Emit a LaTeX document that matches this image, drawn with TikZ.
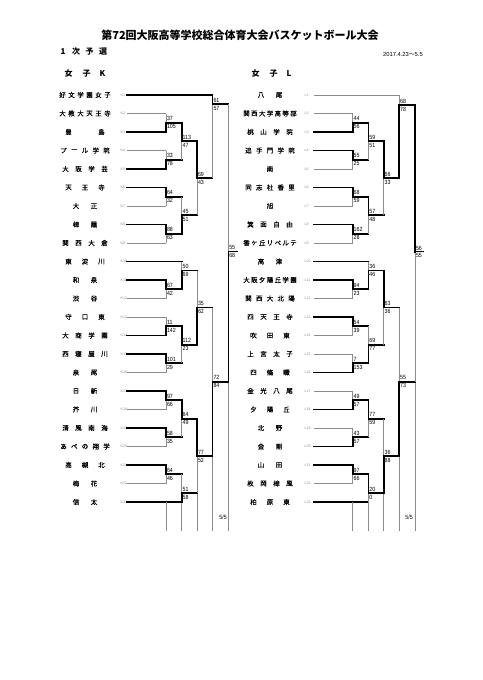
\documentclass[tikz,border=0pt]{standalone}
\usepackage{fontspec}
\newfontfamily\jp{Noto Sans CJK JP}
\newfontfamily\jpn[FakeBold=0.4]{Noto Sans CJK JP}
\newfontfamily\numf[FakeStretch=0.88]{Liberation Sans}
\newfontfamily\labf{Liberation Sans}
\definecolor{thincol}{HTML}{8C8C8C}
\tikzset{
 thk/.style={line width=1.6pt, black, line cap=rect},
 thn/.style={line width=0.6pt, thincol},
 fin/.style={line width=0.8pt, black},
 score/.style={font=\numf\fontsize{6}{6}\selectfont, inner sep=0pt},
 tlab/.style={font=\labf\fontsize{3.6}{4}\selectfont, text=thincol, inner sep=0pt, anchor=west},
 tchar/.style={font=\jpn\fontsize{6.5}{7}\selectfont, inner sep=0pt},
 head/.style={font=\jp\bfseries\fontsize{8}{9}\selectfont, inner sep=0pt},
}
\def\cKa{166}\def\cKb{181.7}\def\cKc{197}\def\cKd{212.5}\def\cKe{228.3}
\def\cLa{352.7}\def\cLb{368.4}\def\cLc{383.7}\def\cLd{399.2}\def\cLe{415}
% team: #1 label, #2 centre x, #3 y, #4 chars, #5 line start, #6 line end, #7 style
\newcommand\tm[7]{%
  \foreach \c [count=\k] in {#4}{\global\let\nc\k}%
  \ifcase\nc \def\hs{0}\or\def\hs{0}\or\def\hs{9}\or\def\hs{16.5}\or\def\hs{19.5}\or\def\hs{21.5}\or\def\hs{22.5}\or\def\hs{23.5}\fi
  \foreach \c [count=\k] in {#4}{%
    \ifnum\nc=1 \def\xx{#2}\else\pgfmathsetmacro\xx{#2-\hs+2*\hs*(\k-1)/(\nc-1)}\fi
    \node[tchar] (nm#1-\k) at (\xx,#3) {\c};}
  \node[tlab] (lb#1) at (\labx,#3) {#1};
  \coordinate (s#1) at (#5,#3);
  \coordinate (e#1) at (#6,#3);
  \draw[#7] (s#1) -- (e#1);
}
% match: #1 name, #2 x, #3 ytop, #4 ybot, #5 yout, #6 top score, #7 bottom score, #8 1=top wins, #9 next x
\newcommand\mt[9]{%
  \coordinate (#1t) at (#2,#3);
  \coordinate (#1b) at (#2,#4);
  \coordinate (#1o) at (#2,#5);
  \coordinate (#1n) at (#9,#5);
  \ifnum#8=1
    \draw[thn] (#1o) -- (#1b);
    \draw[thk] (#1t) -- (#1o);
  \else
    \draw[thn] (#1t) -- (#1o);
    \draw[thk] (#1b) -- (#1o);
  \fi
  \draw[thk] (#1o) -- (#1n);
  \node[score, anchor=south west] (#1u) at ([xshift=0.8pt,yshift=1.6pt]#1o) {#6};
  \node[score, anchor=north west] (#1d) at ([xshift=0.8pt,yshift=-1.8pt]#1o) {#7};
}
\begin{document}
\begin{tikzpicture}[x=1pt,y=-1pt]
\fill[white] (0,0) rectangle (482,680);
\useasboundingbox (0,0) rectangle (482,680);

% header
\node[font=\jp\bfseries\fontsize{11}{12}\selectfont, inner sep=0pt] (title) at (240,35) {第72回大阪高等学校総合体育大会バスケットボール大会};
\node[head] (h1) at (63,51.7) {1};
\node[head] (h2) at (76,51.7) {次};
\node[head] (h3) at (89.5,51.7) {予};
\node[head] (h4) at (103,51.7) {選};
\node[font=\labf\fontsize{5.8}{6}\selectfont, inner sep=0pt, anchor=east] (date) at (423,54.3) {2017.4.23{\jp ～}5.5};
\node[head] (gk1) at (68.5,73.3) {女};
\node[head] (gk2) at (86.5,73.3) {子};
\node[head] (gk3) at (102.5,73.3) {K};
\node[head] (gl1) at (255.5,73.3) {女};
\node[head] (gl2) at (273.5,73.3) {子};
\node[head] (gl3) at (289,73.3) {L};

% ---------------- K bracket ----------------
\def\labx{120.5}
\tm{K1}{85}{95}{好,文,学,園,女,子}{127}{\cKd}{thk}
\tm{K2}{85}{113.5}{大,教,大,天,王,寺}{127}{\cKa}{thn}
\tm{K3}{85}{132}{豊,{},島}{127}{\cKa}{thk}
\tm{K4}{85}{150.5}{プ,ー,ル,学,院}{127}{\cKa}{thn}
\tm{K5}{85}{169}{大,阪,学,芸}{127}{\cKa}{thk}
\tm{K6}{85}{187.5}{天,王,寺}{127}{\cKa}{thk}
\tm{K7}{85}{206}{大,正}{127}{\cKa}{thn}
\tm{K8}{85}{224.5}{樟,蔭}{127}{\cKa}{thk}
\tm{K9}{85}{243}{関,西,大,倉}{127}{\cKa}{thn}
\tm{K10}{85}{261.5}{東,淀,川}{127}{\cKb}{thk}
\tm{K11}{85}{280}{和,泉}{127}{\cKa}{thk}
\tm{K12}{85}{298.5}{渋,谷}{127}{\cKa}{thn}
\tm{K13}{85}{317}{守,口,東}{127}{\cKa}{thn}
\tm{K14}{85}{335.5}{大,商,学,園}{127}{\cKa}{thk}
\tm{K15}{85}{354}{西,寝,屋,川}{127}{\cKa}{thk}
\tm{K16}{85}{372.5}{泉,尾}{127}{\cKa}{thn}
\tm{K17}{85}{391}{日,新}{127}{\cKa}{thk}
\tm{K18}{85}{409.5}{芥,川}{127}{\cKa}{thn}
\tm{K19}{85}{428}{清,風,南,海}{127}{\cKa}{thk}
\tm{K20}{85}{446.5}{あ,べ,の,翔,学}{127}{\cKa}{thn}
\tm{K21}{85}{465}{高,槻,北}{127}{\cKa}{thk}
\tm{K22}{85}{483.5}{梅,花}{127}{\cKa}{thn}
\tm{K23}{85}{502}{信,太}{127}{\cKb}{thk}

% extension lines K
\foreach \cx/\ys [count=\i] in {\cKa/502,\cKb/502,\cKc/493,\cKd/455.9,\cKe/381.75}{
  \coordinate (kxa\i) at (\cx,\ys);
  \coordinate (kxb\i) at (\cx,531);
  \draw[thn] (kxa\i) -- (kxb\i);
}
\node[score, anchor=east] (k55) at (227,517) {5/5};

\mt{ka1}{\cKa}{113.5}{132}{122.75}{37}{105}{0}{\cKb}
\mt{ka2}{\cKa}{150.5}{169}{159.75}{33}{78}{0}{\cKb}
\mt{ka3}{\cKa}{187.5}{206}{196.75}{64}{32}{1}{\cKb}
\mt{ka4}{\cKa}{224.5}{243}{233.75}{88}{63}{1}{\cKb}
\mt{ka5}{\cKa}{280}{298.5}{289.25}{67}{42}{1}{\cKb}
\mt{ka6}{\cKa}{317}{335.5}{326.25}{11}{142}{0}{\cKb}
\mt{ka7}{\cKa}{354}{372.5}{363.25}{101}{29}{1}{\cKb}
\mt{ka8}{\cKa}{391}{409.5}{400.25}{97}{66}{1}{\cKb}
\mt{ka9}{\cKa}{428}{446.5}{437.25}{58}{35}{1}{\cKb}
\mt{ka10}{\cKa}{465}{483.5}{474.25}{64}{46}{1}{\cKb}
\mt{kb1}{\cKb}{122.75}{159.75}{141.25}{113}{47}{1}{\cKc}
\mt{kb2}{\cKb}{196.75}{233.75}{215.25}{45}{51}{0}{\cKc}
\mt{kb3}{\cKb}{261.5}{289.25}{270.5}{50}{69}{0}{\cKc}
\mt{kb4}{\cKb}{326.25}{363.25}{344.75}{112}{23}{1}{\cKc}
\mt{kb5}{\cKb}{400.25}{437.25}{418.75}{64}{49}{1}{\cKc}
\mt{kb6}{\cKb}{474.25}{502}{493}{51}{58}{0}{\cKc}
\mt{kc1}{\cKc}{141.25}{215.25}{178.25}{69}{43}{1}{\cKd}
\mt{kc2}{\cKc}{270.5}{344.75}{307.6}{35}{62}{0}{\cKd}
\mt{kc3}{\cKc}{418.75}{493}{455.9}{77}{52}{1}{\cKd}
\mt{kd1}{\cKd}{95}{178.25}{104}{61}{57}{1}{\cKe}
\mt{kd2}{\cKd}{307.6}{455.9}{381.75}{72}{84}{0}{\cKe}
% K final
\coordinate (kft) at (\cKe,104);
\coordinate (kfb) at (\cKe,381.75);
\coordinate (kfo) at (\cKe,251.5);
\coordinate (kfn) at (238.3,251.5);
\draw[thn] (kft) -- (kfo);
\draw[thk] (kfb) -- (kfo);
\draw[fin] (kfo) -- (kfn);
\node[score, anchor=south west] (kfu) at ([xshift=0.8pt,yshift=1.4pt]kfo) {55};
\node[score, anchor=north west] (kfd) at ([xshift=0.8pt,yshift=-1.6pt]kfo) {68};

% ---------------- L bracket ----------------
\def\labx{304.5}
\tm{L1}{270}{95}{八,尾}{314}{\cLd}{thn}
\tm{L2}{270}{113.5}{関,西,大,学,高,等,部}{314}{\cLa}{thn}
\tm{L3}{270}{132}{桃,山,学,院}{314}{\cLa}{thk}
\tm{L4}{270}{150.5}{追,手,門,学,院}{314}{\cLa}{thk}
\tm{L5}{270}{169}{南}{314}{\cLa}{thn}
\tm{L6}{270}{187.5}{同,志,社,香,里}{314}{\cLa}{thk}
\tm{L7}{270}{206}{旭}{314}{\cLa}{thn}
\tm{L8}{270}{224.5}{箕,面,自,由}{314}{\cLa}{thk}
\tm{L9}{270}{243}{香,ヶ,丘,リ,ベ,ル,テ}{314}{\cLa}{thn}
\tm{L10}{270}{261.5}{高,津}{314}{\cLb}{thk}
\tm{L11}{270}{280}{大,阪,夕,陽,丘,学,園}{314}{\cLa}{thk}
\tm{L12}{270}{298.5}{関,西,大,北,陽}{314}{\cLa}{thn}
\tm{L13}{270}{317}{四,天,王,寺}{314}{\cLa}{thk}
\tm{L14}{270}{335.5}{吹,田,東}{314}{\cLa}{thn}
\tm{L15}{270}{354}{上,宮,太,子}{314}{\cLa}{thn}
\tm{L16}{270}{372.5}{四,條,畷}{314}{\cLa}{thk}
\tm{L17}{270}{391}{金,光,八,尾}{314}{\cLa}{thn}
\tm{L18}{270}{409.5}{夕,陽,丘}{314}{\cLa}{thk}
\tm{L19}{270}{428}{北,野}{314}{\cLa}{thn}
\tm{L20}{270}{446.5}{金,剛}{314}{\cLa}{thk}
\tm{L21}{270}{465}{山,田}{314}{\cLa}{thk}
\tm{L22}{270}{483.5}{枚,岡,樟,風}{314}{\cLa}{thn}
\tm{L23}{270}{502}{柏,原,東}{314}{\cLb}{thk}

\foreach \cx/\ys [count=\i] in {\cLa/502,\cLb/502,\cLc/493,\cLd/455.9,\cLe/381.75}{
  \coordinate (lxa\i) at (\cx,\ys);
  \coordinate (lxb\i) at (\cx,531);
  \draw[thn] (lxa\i) -- (lxb\i);
}
\node[score, anchor=east] (l55) at (413,517) {5/5};

\mt{la1}{\cLa}{113.5}{132}{122.75}{44}{56}{0}{\cLb}
\mt{la2}{\cLa}{150.5}{169}{159.75}{55}{25}{1}{\cLb}
\mt{la3}{\cLa}{187.5}{206}{196.75}{68}{59}{1}{\cLb}
\mt{la4}{\cLa}{224.5}{243}{233.75}{162}{28}{1}{\cLb}
\mt{la5}{\cLa}{280}{298.5}{289.25}{94}{23}{1}{\cLb}
\mt{la6}{\cLa}{317}{335.5}{326.25}{54}{39}{1}{\cLb}
\mt{la7}{\cLa}{354}{372.5}{363.25}{7}{153}{0}{\cLb}
\mt{la8}{\cLa}{391}{409.5}{400.25}{49}{57}{0}{\cLb}
\mt{la9}{\cLa}{428}{446.5}{437.25}{43}{57}{0}{\cLb}
\mt{la10}{\cLa}{465}{483.5}{474.25}{97}{66}{1}{\cLb}
\mt{lb1}{\cLb}{122.75}{159.75}{141.25}{59}{51}{1}{\cLc}
\mt{lb2}{\cLb}{196.75}{233.75}{215.25}{57}{48}{1}{\cLc}
\mt{lb3}{\cLb}{261.5}{289.25}{270.5}{36}{46}{0}{\cLc}
\mt{lb4}{\cLb}{326.25}{363.25}{344.75}{69}{77}{0}{\cLc}
\mt{lb5}{\cLb}{400.25}{437.25}{418.75}{77}{59}{1}{\cLc}
\mt{lb6}{\cLb}{474.25}{502}{493}{20}{0}{1}{\cLc}
\mt{lc1}{\cLc}{141.25}{215.25}{178.25}{66}{33}{1}{\cLd}
\mt{lc2}{\cLc}{270.5}{344.75}{307.6}{63}{36}{1}{\cLd}
\mt{lc3}{\cLc}{418.75}{493}{455.9}{36}{88}{0}{\cLd}
\mt{ld1}{\cLd}{95}{178.25}{105}{68}{78}{0}{\cLe}
\mt{ld2}{\cLd}{307.6}{455.9}{381.75}{55}{73}{0}{\cLe}
% L final
\coordinate (lft) at (\cLe,105);
\coordinate (lfb) at (\cLe,381.75);
\coordinate (lfo) at (\cLe,251.7);
\coordinate (lfn) at (424,251.7);
\draw[thn] (lfb) -- (lfo);
\draw[thk] (lft) -- (lfo);
\draw[fin] (lfo) -- (lfn);
\node[score, anchor=south west] (lfu) at ([xshift=0.8pt,yshift=1.4pt]lfo) {56};
\node[score, anchor=north west] (lfd) at ([xshift=0.8pt,yshift=-1.6pt]lfo) {55};
\end{tikzpicture}
\end{document}
